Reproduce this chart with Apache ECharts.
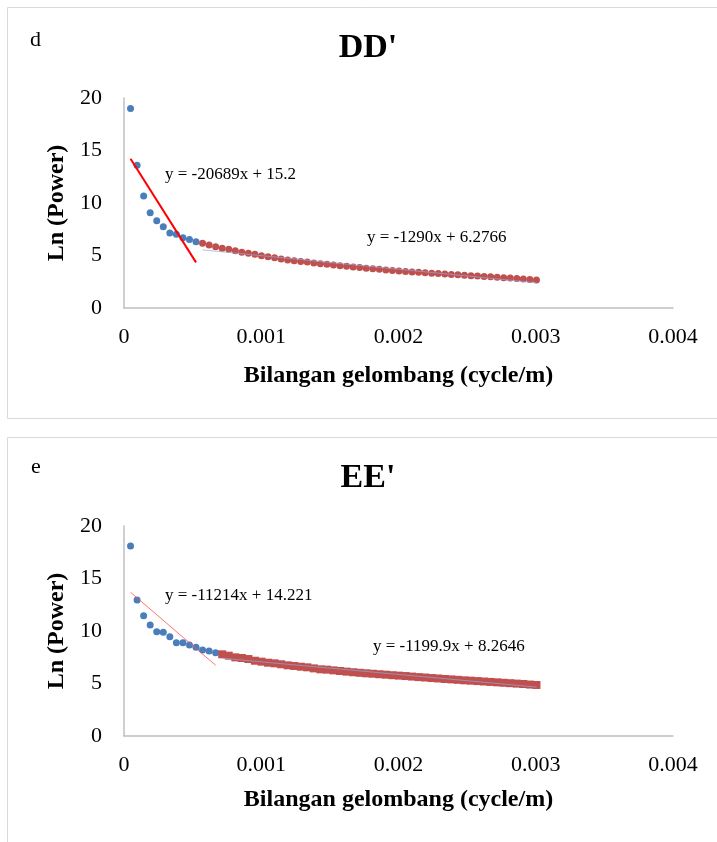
<!DOCTYPE html>
<html>
<head>
<meta charset="utf-8">
<script src="https://cdn.jsdelivr.net/npm/echarts@6/dist/echarts.min.js"></script>
<style>
html,body{margin:0;padding:0;background:#fff;}
#chart{width:717px;height:842px;}
</style>
</head>
<body>
<div id="chart"></div>
<script>
// Wavenumbers (cycle/m) shared by both profiles
const wavenumber = [
  0.0000477,0.0000954,0.0001431,0.0001908,0.0002385,0.0002862,0.0003339,0.0003816,0.0004293,0.000477,
  0.0005247,0.0005724,0.0006201,0.0006678,0.0007155,0.0007632,0.0008109,0.0008586,0.0009063,0.000954,
  0.0010017,0.0010494,0.0010971,0.0011448,0.0011925,0.0012402,0.0012879,0.0013356,0.0013833,0.001431,
  0.0014787,0.0015264,0.0015741,0.0016218,0.0016695,0.0017172,0.0017649,0.0018126,0.0018603,0.001908,
  0.0019557,0.0020034,0.0020511,0.0020988,0.0021465,0.0021942,0.0022419,0.0022896,0.0023373,0.002385,
  0.0024327,0.0024804,0.0025281,0.0025758,0.0026235,0.0026712,0.0027189,0.0027666,0.0028143,0.002862,
  0.0029097,0.0029574,0.0030051
];

// DD' : Ln(Power) — regional part (blue) and residual part (red)
const ddRegional = [19.0,13.6,10.67,9.08,8.32,7.75,7.15,7.02,6.70,6.52,6.32];
const ddResidual = [
  6.16,6.00,5.84,5.68,5.59,5.46,5.30,5.21,5.11,4.98,
  4.89,4.79,4.67,4.57,4.51,4.44,4.38,4.29,4.22,4.16,
  4.10,4.03,3.97,3.91,3.85,3.79,3.73,3.68,3.63,3.58,
  3.53,3.48,3.44,3.40,3.36,3.32,3.28,3.24,3.20,3.16,
  3.12,3.08,3.04,3.01,2.97,2.93,2.89,2.85,2.81,2.77,
  2.72,2.67
];

// EE' : Ln(Power)
const eeRegional = [18.1,12.95,11.46,10.57,9.94,9.87,9.46,8.89,8.89,8.67,8.45,8.19,8.10,7.94];
const eeResidual = [
  7.78,7.65,7.49,7.43,7.33,7.17,7.08,6.98,6.92,6.83,
  6.73,6.67,6.60,6.54,6.44,6.35,6.32,6.25,6.19,6.13,
  6.07,6.02,5.97,5.93,5.88,5.84,5.79,5.75,5.71,5.66,
  5.61,5.57,5.52,5.48,5.43,5.39,5.35,5.30,5.27,5.23,
  5.19,5.15,5.11,5.07,5.03,4.99,4.95,4.90,4.86
];

// Trendline equations shown on the chart
const ddRegFit = {slope:-20689, intercept:15.2, label:'y = -20689x + 15.2'};
const ddResFit = {slope:-1290, intercept:6.2766, label:'y = -1290x + 6.2766'};
const eeRegFit = {slope:-11214, intercept:14.221, label:'y = -11214x + 14.221'};
const eeResFit = {slope:-1199.9, intercept:8.2646, label:'y = -1199.9x + 8.2646'};

const xTicks = ['0','0.001','0.002','0.003','0.004'];
const yTicks = ['0','5','10','15','20'];

const FONT = '"Liberation Serif","Times New Roman",serif';
const BLUE = '#4a7ebb';
const RED = '#c0504d';

function pts(offset, vals){ return vals.map((v,i)=>[wavenumber[offset+i], v]); }
function fitLine(fit, x0, x1){ return [[x0, fit.intercept+fit.slope*x0],[x1, fit.intercept+fit.slope*x1]]; }

const ddBlue = pts(0, ddRegional);
const ddRed = pts(ddRegional.length, ddResidual);
const eeBlue = pts(0, eeRegional);
const eeRed = pts(eeRegional.length, eeResidual);

function xAxis(gridIndex, gap){
  return {
    gridIndex, type:'value', min:0, max:0.004, interval:0.001,
    axisLine:{show:true, lineStyle:{color:'#bfbfbf', width:1.5}},
    axisTick:{show:false}, splitLine:{show:false},
    axisLabel:{margin:18, fontFamily:FONT, fontSize:22, color:'#000',
      formatter:(v)=>xTicks[Math.round(v/0.001)]},
    name:'Bilangan gelombang (cycle/m)', nameLocation:'middle', nameGap:gap,
    nameTextStyle:{fontFamily:FONT, fontSize:24, fontWeight:'bold', color:'#000'}
  };
}
function yAxis(gridIndex){
  return {
    gridIndex, type:'value', min:0, max:20, interval:5,
    axisLine:{show:true, lineStyle:{color:'#bfbfbf', width:1.5}},
    axisTick:{show:false}, splitLine:{show:false},
    axisLabel:{margin:22, fontFamily:FONT, fontSize:22, color:'#000',
      formatter:(v)=>yTicks[Math.round(v/5)]},
    name:'Ln (Power)', nameLocation:'middle', nameGap:54, nameRotate:90,
    nameTextStyle:{fontFamily:FONT, fontSize:24, fontWeight:'bold', color:'#000'}
  };
}

function label(text, x, y, size, bold, align){
  return {type:'text', x, y, style:{text, fontFamily:FONT, fontSize:size,
    fontWeight:bold?'bold':'normal', fill:'#000', textAlign:align||'left', textVerticalAlign:'middle'}};
}

const chart = echarts.init(document.getElementById('chart'), null, {renderer:'canvas'});
chart.setOption({
  animation:false,
  backgroundColor:'#fff',
  grid:[
    {left:124, top:98, width:549, height:210},
    {left:124, top:526, width:549, height:210}
  ],
  xAxis:[xAxis(0,56), xAxis(1,52)],
  yAxis:[yAxis(0), yAxis(1)],
  graphic:[
    {type:'rect', shape:{x:7.5, y:7.5, width:730, height:411}, style:{fill:'none', stroke:'#d9d9d9', lineWidth:1}},
    {type:'rect', shape:{x:7.5, y:437.5, width:730, height:430}, style:{fill:'none', stroke:'#d9d9d9', lineWidth:1}},
    label('d', 30, 40, 22, false),
    label("DD'", 368, 48, 34, true, 'center'),
    label('e', 31, 467, 22, false),
    label("EE'", 368, 478, 34, true, 'center'),
    label(ddRegFit.label, 165, 175, 17, false),
    label(ddResFit.label, 367, 238, 17, false),
    label(eeRegFit.label, 165, 596, 17, false),
    label(eeResFit.label, 373, 647, 17, false)
  ],
  series:[
    {type:'scatter', xAxisIndex:0, yAxisIndex:0, data:ddBlue, symbol:'circle', symbolSize:7, itemStyle:{color:BLUE, opacity:1}, z:3},
    {type:'scatter', xAxisIndex:0, yAxisIndex:0, data:ddRed, symbol:'circle', symbolSize:7, itemStyle:{color:RED, opacity:1}, z:3},
    {type:'line', xAxisIndex:0, yAxisIndex:0, data:fitLine(ddRegFit, ddBlue[0][0], ddBlue[ddBlue.length-1][0]),
      symbol:'none', lineStyle:{color:'#ff0000', width:2}, z:4},
    {type:'line', xAxisIndex:0, yAxisIndex:0, data:fitLine(ddResFit, ddRed[0][0], ddRed[ddRed.length-1][0]),
      symbol:'none', lineStyle:{color:'#8eaadb', width:1, opacity:0.7}, z:4},

    {type:'scatter', xAxisIndex:1, yAxisIndex:1, data:eeBlue, symbol:'circle', symbolSize:7, itemStyle:{color:BLUE, opacity:1}, z:3},
    {type:'scatter', xAxisIndex:1, yAxisIndex:1, data:eeRed, symbol:'rect', symbolSize:8, itemStyle:{color:RED, opacity:1}, z:3},
    {type:'line', xAxisIndex:1, yAxisIndex:1, data:fitLine(eeRegFit, eeBlue[0][0], eeBlue[eeBlue.length-1][0]),
      symbol:'none', lineStyle:{color:'#ff5050', width:0.8}, z:4},
    {type:'line', xAxisIndex:1, yAxisIndex:1, data:fitLine(eeResFit, eeRed[0][0], eeRed[eeRed.length-1][0]),
      symbol:'none', lineStyle:{color:'#8eaadb', width:1, opacity:0.7}, z:4}
  ]
});
</script>
</body>
</html>
